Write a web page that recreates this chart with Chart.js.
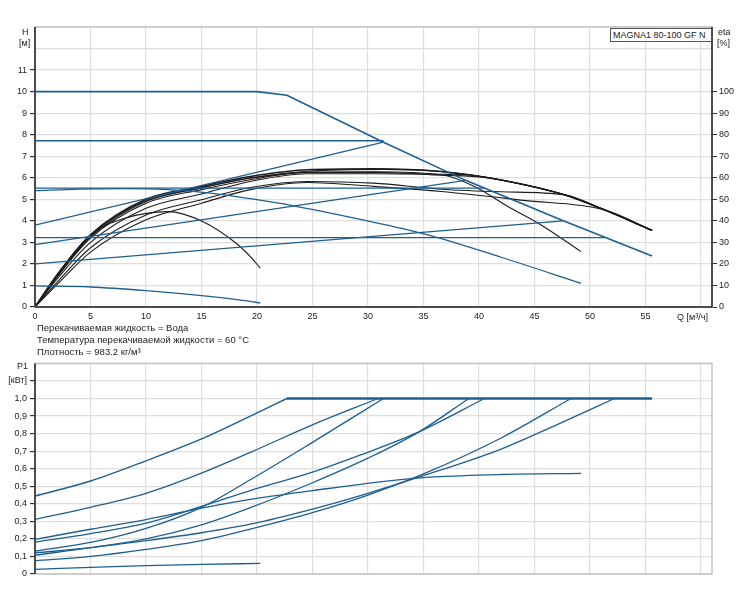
<!DOCTYPE html>
<html>
<head>
<meta charset="utf-8">
<script src="https://cdn.jsdelivr.net/npm/chart.js@4.4.0/dist/chart.umd.min.js"></script>
<style>
  body { margin: 0; background: #fff; font-family: "Liberation Sans", Arial, sans-serif; color: #222; }
  #wrap { position: relative; width: 750px; height: 600px; }
  canvas { position: absolute; left: 0; }
  .lbl { position: absolute; font-size: 9px; line-height: 10px; white-space: nowrap; }
  .info { position: absolute; left: 37px; font-size: 9.5px; line-height: 12px; white-space: nowrap; }
  #model { position: absolute; left: 610px; top: 28px; height: 14px; width: 102px; border: 1px solid #555;
           font-size: 9px; line-height: 13px; padding-left: 2px; box-sizing: border-box; background: #fff; }
</style>
</head>
<body>
<div id="wrap">
  <canvas id="qh" width="750" height="330" style="top:0"></canvas>
  <canvas id="p1" width="750" height="245" style="top:355px"></canvas>
  <div class="lbl" style="left:22px;top:27px">H</div>
  <div class="lbl" style="left:19px;top:38px">[м]</div>
  <div class="lbl" style="left:718px;top:27px">eta</div>
  <div class="lbl" style="left:717px;top:38px">[%]</div>
  <div class="lbl" style="left:677px;top:312px">Q [м³/ч]</div>
  <div id="model">MAGNA1 80-100 GF N</div>
  <div class="info" style="top:322px">Перекачиваемая жидкость = Вода</div>
  <div class="info" style="top:334px">Температура перекачиваемой жидкости = 60 °C</div>
  <div class="info" style="top:346px">Плотность = 983.2 кг/м³</div>
  <div class="lbl" style="left:17px;top:361px">P1</div>
</div>
<script>
/* ── tick labels ── */
const qTickLabels = ["0", "5", "10", "15", "20", "25", "30", "35", "40", "45", "50", "55"];
const hTickLabels = ["0", "1", "2", "3", "4", "5", "6", "7", "8", "9", "10", "11"];
const etaTickLabels = ["0", "10", "20", "30", "40", "50", "60", "70", "80", "90", "100"];
const p1TickLabels = ["0", "0,1", "0,2", "0,3", "0,4", "0,5", "0,6", "0,7", "0,8", "0,9", "1,0", "[кВт]"];

/* ── QH curves (Q м³/ч, H м) ── */
const qMaxH = [0, 20, 22.7, 31.4, 38.8, 47.6, 55.6];
const hMaxH = [10, 10, 9.83, 7.65, 5.88, 4.0, 2.37];
const qMinH = [0, 5, 10, 15, 19.4, 20.3];
const hMinH = [0.98, 0.93, 0.76, 0.53, 0.26, 0.18];
const qFixH = [0, 4, 8, 12, 16, 19.4, 23.3, 29, 35.4, 42, 49.2];
const hFixH = [5.4, 5.47, 5.5, 5.45, 5.28, 5.03, 4.7, 4.1, 3.35, 2.31, 1.1];
const qCp77 = [0, 31.4];
const hCp77 = [7.72, 7.72];
const qCp55 = [0, 40.5];
const hCp55 = [5.52, 5.52];
const qCp32 = [0, 51.3];
const hCp32 = [3.22, 3.22];
const qPp38 = [0, 31.4];
const hPp38 = [3.8, 7.65];
const qPp29 = [0, 38.8];
const hPp29 = [2.9, 5.88];
const qPp20 = [0, 47.6];
const hPp20 = [2.0, 4.0];

/* ── eta curves (%) ── */
const qEtaMax = [0, 2, 5, 10, 15, 19.4, 24.5, 30.5, 36.6, 42, 47.7, 51.3, 55.6];
const etaMax = [0, 15, 33.5, 50, 56, 60.6, 63.7, 64.2, 62.9, 59, 52.1, 45.1, 35.6];
const qEtaFix = [0, 2, 5, 10, 15, 19.4, 24.5, 30.5, 36.6, 39.6, 42.6, 45.6, 49.2];
const etaFix = [0, 14.5, 33, 49.4, 55.4, 59.8, 62.5, 62.8, 61.4, 56, 46.7, 38.1, 25.7];
const qEta38 = [0, 2, 5, 10, 15, 19.4, 24.5, 31.4, 36.6, 42, 47.7, 51.3, 55.6];
const eta38 = [0, 14, 32.5, 49, 55.3, 60, 63, 63.9, 62.9, 59, 52.1, 45.1, 35.6];
const qEta55 = [0, 2, 5, 10, 15, 19.4, 24.5, 30.5, 36.6, 40.5, 42, 47.7, 51.3, 55.6];
const eta55 = [0, 14, 32, 48.2, 54.5, 59.1, 62.5, 62.5, 61.2, 60.2, 59, 52.1, 45.1, 35.6];
const qEta29 = [0, 2, 5, 10, 15, 19.4, 24.5, 30.5, 36.6, 38.8, 42, 47.7, 51.3, 55.6];
const eta29 = [0, 13, 30, 45.8, 52.5, 58.3, 61.9, 61.9, 61.6, 61.4, 59, 52.1, 45.1, 35.6];
const qEta20 = [0, 2, 5, 10, 15, 19.4, 24.5, 30.5, 36.6, 42, 47.7, 51.3, 55.6];
const eta20 = [0, 11.5, 27.5, 42.7, 49.8, 55.5, 58.3, 57.5, 54.7, 53.5, 52.1, 45.1, 35.6];
const qEta32 = [0, 2, 5, 10, 15, 19.4, 24.5, 30.5, 36.6, 44, 51.3, 55.6];
const eta32 = [0, 10.5, 25.5, 40.5, 48.2, 54.5, 57.8, 56, 53.6, 49.5, 45.1, 35.6];
const qEtaMin = [0, 2, 5, 8.1, 12, 15.1, 18.1, 19.4, 20.3];
const etaMin = [0, 15, 33.5, 41.2, 44.3, 39.7, 29.7, 23.4, 18];

/* ── P1 curves (кВт) ── */
const qP1Max = [0, 5, 10, 15, 19.4, 22.7];
const p1Max = [0.444, 0.53, 0.645, 0.77, 0.9, 1.0];
const qP1Flat = [22.7, 55.6];
const p1Flat = [1.0, 1.0];
const qP1Cp77 = [0, 5, 10, 15, 19.4, 25, 30.9];
const p1Cp77 = [0.311, 0.38, 0.46, 0.575, 0.693, 0.85, 1.0];
const qP1Fix = [0, 5, 10, 15, 19.4, 25, 31.5, 36, 42, 49.2];
const p1Fix = [0.197, 0.255, 0.31, 0.375, 0.425, 0.475, 0.528, 0.553, 0.567, 0.573];
const qP1Cp55 = [0, 5, 10, 15, 19.4, 25, 29.4, 34.6, 40.5];
const p1Cp55 = [0.182, 0.23, 0.29, 0.385, 0.475, 0.58, 0.68, 0.81, 1.0];
const qP1Pp38 = [0, 5, 10, 15, 19.4, 25, 31.4];
const p1Pp38 = [0.131, 0.18, 0.26, 0.38, 0.537, 0.75, 1.0];
const qP1Cp32 = [0, 5, 10, 15, 19.4, 25, 30, 35, 42, 47, 52.2];
const p1Cp32 = [0.12, 0.15, 0.19, 0.235, 0.284, 0.37, 0.46, 0.56, 0.712, 0.85, 1.0];
const qP1Pp29 = [0, 5, 10, 15, 19.4, 25, 30, 34.6, 39.1];
const p1Pp29 = [0.107, 0.15, 0.2, 0.28, 0.378, 0.52, 0.66, 0.81, 1.0];
const qP1Pp20 = [0, 5, 10, 15, 19.4, 25, 30, 35, 42, 48.3];
const p1Pp20 = [0.075, 0.1, 0.14, 0.19, 0.256, 0.35, 0.45, 0.57, 0.775, 1.0];
const qP1Min = [0, 5, 10, 15, 20.3];
const p1Min = [0.026, 0.038, 0.048, 0.055, 0.06];

const BLUE = "#1e5f92";
const BLACK = "#1c1c1c";
const GRID = "#dedede";
const FONT = { family: "Liberation Sans", size: 9 };

function pts(xs, ys) {
    return xs.map((x, i) => ({ x: x, y: ys[i] }));
}
function line(xs, ys, color, width, axis, straight) {
    return {
        data: pts(xs, ys),
        borderColor: color,
        borderWidth: width,
        pointRadius: 0,
        fill: false,
        cubicInterpolationMode: straight ? "default" : "monotone",
        tension: 0,
        yAxisID: axis || "y",
    };
}

// рамка графика: серый контур + тёмные оси
function framePlugin(darkSides) {
    return {
        id: "frame",
        afterDraw(chart) {
            const a = chart.chartArea;
            const c = chart.ctx;
            c.save();
            c.lineWidth = 1.5;
            c.strokeStyle = "#c4c4c4";
            c.strokeRect(a.left, a.top, a.right - a.left, a.bottom - a.top);
            c.strokeStyle = "#222";
            c.beginPath();
            if (darkSides.includes("l")) { c.moveTo(a.left, a.top); c.lineTo(a.left, a.bottom); }
            if (darkSides.includes("b")) { c.moveTo(a.left, a.bottom); c.lineTo(a.right, a.bottom); }
            if (darkSides.includes("r")) { c.moveTo(a.right, a.top); c.lineTo(a.right, a.bottom); }
            c.stroke();
            c.restore();
        },
    };
}

const xScale = (showLabels, fitH) => ({
    type: "linear",
    min: 0,
    max: 61,
    border: { display: false },
    grid: { color: GRID, lineWidth: 1.2, drawTicks: false },
    ticks: {
        stepSize: 5,
        includeBounds: false,
        display: showLabels,
        padding: 4,
        color: "#222",
        font: FONT,
        maxRotation: 0,
        autoSkip: false,
        callback: (v) => qTickLabels[v / 5] || "",
    },
    afterFit: (s) => { s.height = fitH; },
});

/* ── QH + eta chart ── */
new Chart(document.getElementById("qh"), {
    type: "line",
    data: {
        datasets: [
            line(qCp77, hCp77, BLUE, 1.4),
            line(qCp55, hCp55, BLUE, 1.4),
            line(qCp32, hCp32, BLUE, 1.4),
            line(qPp38, hPp38, BLUE, 1.3),
            line(qPp29, hPp29, BLUE, 1.3),
            line(qPp20, hPp20, BLUE, 1.3),
            line(qFixH, hFixH, BLUE, 1.3),
            line(qMinH, hMinH, BLUE, 1.4),
            line(qMaxH, hMaxH, BLUE, 1.6, "y", true),
            line(qEtaMin, etaMin, BLACK, 1.1, "y2"),
            line(qEta32, eta32, BLACK, 1.1, "y2"),
            line(qEta20, eta20, BLACK, 1.1, "y2"),
            line(qEta29, eta29, BLACK, 1.1, "y2"),
            line(qEta55, eta55, BLACK, 1.1, "y2"),
            line(qEta38, eta38, BLACK, 1.1, "y2"),
            line(qEtaFix, etaFix, BLACK, 1.1, "y2"),
            line(qEtaMax, etaMax, BLACK, 1.6, "y2"),
        ],
    },
    options: {
        responsive: false,
        animation: false,
        layout: { padding: { top: 27, left: 0, right: 0, bottom: 0 } },
        plugins: { legend: { display: false }, tooltip: { enabled: false } },
        scales: {
            x: xScale(true, 23),
            y: {
                type: "linear",
                min: 0,
                max: 13,
                border: { display: false },
                grid: {
                    color: GRID,
                    lineWidth: 1.2,
                    tickLength: 5,
                    tickColor: (ctx) => (ctx.tick && ctx.tick.value <= 11 ? "#333" : "rgba(0,0,0,0)"),
                },
                ticks: {
                    stepSize: 1,
                    padding: 3,
                    color: "#222",
                    font: FONT,
                    callback: (v) => hTickLabels[v] || "",
                },
                afterFit: (s) => { s.width = 35; },
            },
            y2: {
                type: "linear",
                position: "right",
                min: 0,
                max: 130,
                border: { display: false },
                grid: {
                    drawOnChartArea: false,
                    tickLength: 5,
                    tickColor: (ctx) => (ctx.tick && ctx.tick.value <= 100 ? "#333" : "rgba(0,0,0,0)"),
                },
                ticks: {
                    stepSize: 10,
                    padding: 2,
                    color: "#222",
                    font: FONT,
                    callback: (v) => etaTickLabels[v / 10] || "",
                },
                afterFit: (s) => { s.width = 38; },
            },
        },
    },
    plugins: [framePlugin("lbr")],
});

/* ── P1 chart ── */
new Chart(document.getElementById("p1"), {
    type: "line",
    data: {
        datasets: [
            line(qP1Min, p1Min, BLUE, 1.3),
            line(qP1Pp20, p1Pp20, BLUE, 1.3),
            line(qP1Cp32, p1Cp32, BLUE, 1.3),
            line(qP1Pp29, p1Pp29, BLUE, 1.3),
            line(qP1Pp38, p1Pp38, BLUE, 1.3),
            line(qP1Cp55, p1Cp55, BLUE, 1.3),
            line(qP1Fix, p1Fix, BLUE, 1.3),
            line(qP1Cp77, p1Cp77, BLUE, 1.3),
            line(qP1Max, p1Max, BLUE, 1.4),
            line(qP1Flat, p1Flat, BLUE, 2.4, "y", true),
        ],
    },
    options: {
        responsive: false,
        animation: false,
        layout: { padding: { top: 7, left: 0, right: 38, bottom: 0 } },
        plugins: { legend: { display: false }, tooltip: { enabled: false } },
        scales: {
            x: xScale(false, 26),
            y: {
                type: "linear",
                min: 0,
                max: 1.2,
                border: { display: false },
                grid: {
                    color: GRID,
                    lineWidth: 1.2,
                    tickLength: 5,
                    tickColor: (ctx) => (ctx.tick && ctx.tick.value <= 1.15 ? "#333" : "rgba(0,0,0,0)"),
                },
                ticks: {
                    stepSize: 0.1,
                    padding: 3,
                    color: "#222",
                    font: FONT,
                    callback: (v) => p1TickLabels[Math.round(v * 10)] || "",
                },
                afterFit: (s) => { s.width = 35; },
            },
        },
    },
    plugins: [framePlugin("l")],
});
</script>
</body>
</html>
